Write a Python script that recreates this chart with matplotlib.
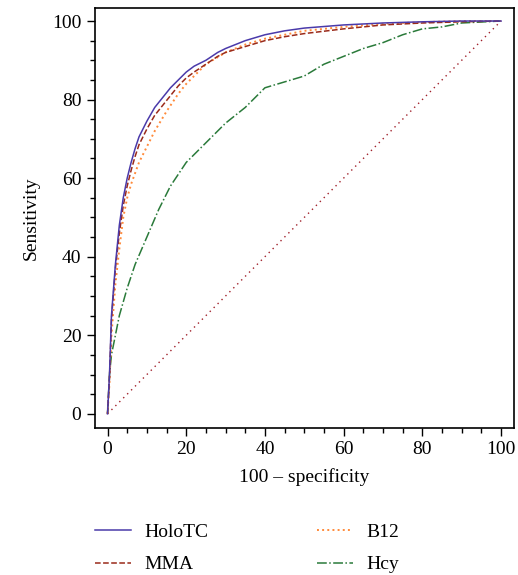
import matplotlib
matplotlib.use("Agg")
import matplotlib.pyplot as plt
import numpy as np
from matplotlib.ticker import MultipleLocator

plt.rcParams['font.family'] = ['Liberation Serif', 'DejaVu Serif']

# ROC curves (100 - specificity, sensitivity)
holo_x = [0, 0.5, 1, 2, 3, 4, 5, 6, 7, 8, 9, 10, 12, 14, 16, 18, 20, 22, 25, 28, 30, 35, 40, 45, 50, 60, 70, 80, 90, 100]
holo_y = [0, 10, 25, 38, 48, 55, 60, 64, 67.5, 70.5, 72.5, 74.5, 78, 80.5, 83, 85, 87, 88.5, 90, 92, 93, 95, 96.5, 97.5, 98.2, 99, 99.5, 99.8, 100, 100]

mma_x = [0, 0.5, 1, 2, 3, 4, 5, 6, 7, 8, 9, 10, 12, 14, 16, 18, 20, 22, 25, 28, 30, 35, 40, 45, 50, 60, 70, 80, 90, 100]
mma_y = [0, 9, 24, 37, 46, 53, 58, 62, 65.5, 68.5, 70.5, 72.5, 76, 78.5, 81, 83.5, 85.5, 87, 89, 91, 92, 93.5, 95, 96, 96.8, 98, 99, 99.5, 99.8, 100]

b12_x = [0, 0.5, 1, 2, 3, 4, 5, 6, 8, 10, 12, 15, 18, 20, 25, 30, 35, 40, 50, 60, 70, 80, 90, 100]
b12_y = [0, 8, 20, 33, 42, 50, 55, 58.5, 64, 68, 72, 77, 81.5, 84, 89, 92, 94, 95.5, 97.5, 98.5, 99.3, 99.7, 100, 100]

hcy_x = [0, 0.5, 1, 2, 3, 5, 7, 10, 13, 16, 20, 25, 30, 35, 40, 45, 50, 55, 60, 65, 70, 75, 80, 85, 90, 100]
hcy_y = [0, 10, 15, 20, 25, 32, 38, 45, 52, 58, 64, 69, 74, 78, 83, 84.5, 86, 89, 91, 93, 94.5, 96.5, 98, 98.5, 99.5, 100]

ref_x = [0, 100]
ref_y = [0, 100]

fig = plt.figure(figsize=(5.18, 5.75), dpi=100)
ax = fig.add_axes([0.1825, 0.2557, 0.8098, 0.7303])

ax.plot(ref_x, ref_y, color='#a0202a', linestyle=(0, (1, 3)), lw=1.0)
ax.plot(hcy_x, hcy_y, color='#2a7a3a', linestyle='-.', lw=1.1, label='Hcy')
ax.plot(b12_x, b12_y, color='#ff8a3a', linestyle=':', lw=1.4, label='B12')
ax.plot(mma_x, mma_y, color='#9a2a1a', linestyle='--', lw=1.1, label='MMA')
ax.plot(holo_x, holo_y, color='#4a3aaa', linestyle='-', lw=1.1, label='HoloTC')

ax.set_xlim(-3.3, 103.3)
ax.set_ylim(-3.6, 103.3)
ax.xaxis.set_major_locator(MultipleLocator(20))
ax.yaxis.set_major_locator(MultipleLocator(20))
ax.xaxis.set_minor_locator(MultipleLocator(5))
ax.yaxis.set_minor_locator(MultipleLocator(5))
ax.tick_params(which='major', length=5.5, width=1.0, labelsize=14, pad=4)
ax.tick_params(which='minor', length=3.5, width=1.0)
for s in ax.spines.values():
    s.set_linewidth(1.2)

ax.set_xlabel('100 \u2013 specificity', fontsize=14, labelpad=7)
ax.set_ylabel('Sensitivity', fontsize=14, labelpad=9)

h, l = ax.get_legend_handles_labels()
order = [3, 2, 1, 0]
fig.legend([h[i] for i in order], [l[i] for i in order], ncol=2, frameon=False,
           fontsize=14, loc='upper left', bbox_to_anchor=(0.15, 0.12),
           handlelength=1.85, handletextpad=0.67, columnspacing=5.6, labelspacing=0.75)

plt.savefig('out.png', dpi=100)
